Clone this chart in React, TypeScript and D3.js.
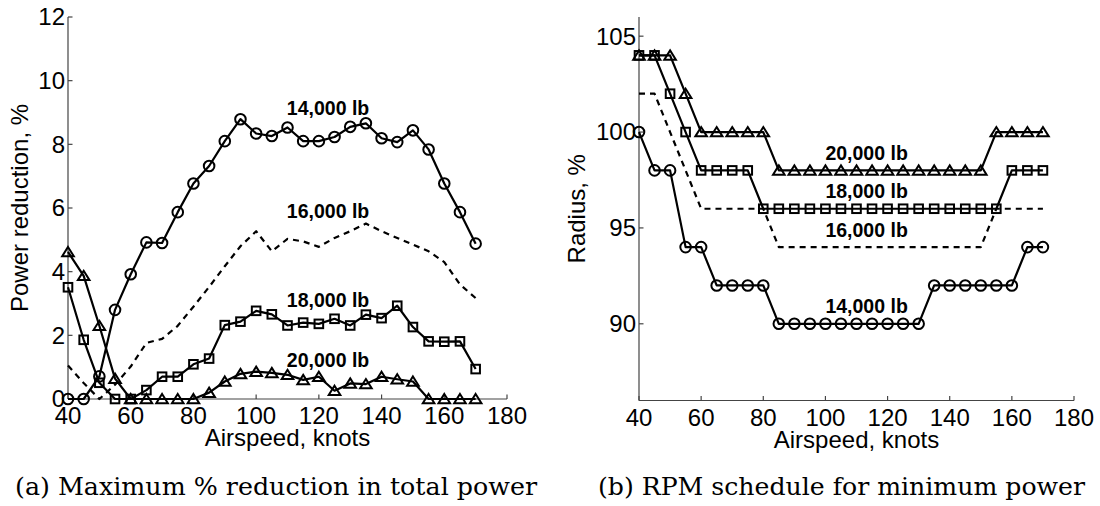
import React from 'react';
import * as d3 from 'd3';

const airspeed = [40, 45, 50, 55, 60, 65, 70, 75, 80, 85, 90, 95, 100, 105, 110, 115, 120, 125, 130, 135, 140, 145, 150, 155, 160, 165, 170];

// Panel (a): maximum % reduction in total power
const power14k = [0, 0, 0.71, 2.8, 3.92, 4.92, 4.9, 5.87, 6.77, 7.32, 8.1, 8.79, 8.34, 8.26, 8.53, 8.1, 8.1, 8.23, 8.55, 8.66, 8.19, 8.07, 8.44, 7.84, 6.77, 5.87, 4.88];
const power16k = [1.05, 0.5, 0, 0.45, 1.02, 1.76, 1.89, 2.3, 2.9, 3.52, 4.17, 4.8, 5.27, 4.64, 5.03, 4.95, 4.78, 5.06, 5.27, 5.51, 5.27, 5.06, 4.85, 4.64, 4.3, 3.6, 3.17];
const power18k = [3.51, 1.86, 0.51, 0, 0, 0.28, 0.7, 0.7, 1.09, 1.27, 2.32, 2.43, 2.77, 2.66, 2.31, 2.4, 2.36, 2.52, 2.31, 2.65, 2.54, 2.93, 2.26, 1.81, 1.8, 1.81, 0.94];
const power20k = [4.62, 3.87, 2.3, 0.64, 0, 0, 0, 0, 0, 0.2, 0.55, 0.79, 0.86, 0.82, 0.76, 0.6, 0.7, 0.26, 0.49, 0.47, 0.7, 0.62, 0.55, 0, 0, 0, 0];

// Panel (b): RPM schedule (radius %)
const radius14k = [100, 98, 98, 94, 94, 92, 92, 92, 92, 90, 90, 90, 90, 90, 90, 90, 90, 90, 90, 92, 92, 92, 92, 92, 92, 94, 94];
const radius16k = [102, 102, 100, 98, 96, 96, 96, 96, 96, 94, 94, 94, 94, 94, 94, 94, 94, 94, 94, 94, 94, 94, 94, 96, 96, 96, 96];
const radius18k = [104, 104, 102, 100, 98, 98, 98, 98, 96, 96, 96, 96, 96, 96, 96, 96, 96, 96, 96, 96, 96, 96, 96, 96, 98, 98, 98];
const radius20k = [104, 104, 104, 102, 100, 100, 100, 100, 100, 98, 98, 98, 98, 98, 98, 98, 98, 98, 98, 98, 98, 98, 98, 100, 100, 100, 100];

const xTicks = [40, 60, 80, 100, 120, 140, 160, 180];
const powerTicks = [0, 2, 4, 6, 8, 10, 12];
const radiusTicks = [90, 95, 100, 105];

const weightNames = ['14,000 lb', '16,000 lb', '18,000 lb', '20,000 lb'];
const markerKinds = ['circle', 'none', 'square', 'triangle'];

// label anchor positions in data coordinates [airspeed, value]
const powerLabelPos: [number, number][] = [[109.8, 8.92], [109.8, 5.69], [109.8, 2.89], [109.8, 1.0]];
const radiusLabelPos: [number, number][] = [[100, 90.55], [100, 94.52], [100, 96.55], [100, 98.54]];

const SANS = 'Liberation Sans, Arial, Helvetica, sans-serif';
const SERIF = 'DejaVu Serif, serif';

type PanelProps = {
  xRange: [number, number];
  yRange: [number, number];
  yDomain: [number, number];
  yTicks: number[];
  series: number[][];
  labelPos: [number, number][];
  yTitle: string;
  yTitleX: number;
  caption: string;
  captionX: number;
  captionLen: number;
};

function Marker({ kind, x, y }: { kind: string; x: number; y: number }) {
  const common = { fill: 'none', stroke: '#000', strokeWidth: 2 };
  if (kind === 'circle') return <circle cx={x} cy={y} r={5.3} {...common} />;
  if (kind === 'square') return <rect x={x - 4.3} y={y - 4.3} width={8.6} height={8.6} {...common} />;
  if (kind === 'triangle')
    return <path d={`M${x},${y - 5} L${x + 5.8},${y + 4.3} L${x - 5.8},${y + 4.3} Z`} {...common} strokeLinejoin="miter" />;
  return null;
}

function Panel(p: PanelProps) {
  const x = d3.scaleLinear().domain([40, 180]).range(p.xRange);
  const y = d3.scaleLinear().domain(p.yDomain).range(p.yRange);
  const line = d3
    .line<number>()
    .x((_, i) => x(airspeed[i]))
    .y((d) => y(d));
  const x0 = p.xRange[0];
  const x1 = p.xRange[1];
  const yb = p.yRange[0];
  const yt = p.yRange[1];
  const axisColor = '#444';
  const midX = (x0 + x1) / 2;
  const midY = (yb + yt) / 2;
  return (
    <g>
      {/* axes */}
      <line x1={x0} x2={x1} y1={yb} y2={yb} stroke={axisColor} strokeWidth={1.2} />
      <line x1={x0} x2={x0} y1={yb} y2={yt} stroke={axisColor} strokeWidth={1.2} />
      {xTicks.map((t) => (
        <g key={'xt' + t}>
          <line x1={x(t)} x2={x(t)} y1={yb} y2={yb - 4.5} stroke={axisColor} strokeWidth={1.2} />
          <text x={x(t)} y={yb + 25} textAnchor="middle" fontFamily={SANS} fontSize={24} fill="#000">
            {t}
          </text>
        </g>
      ))}
      {p.yTicks.map((t) => (
        <g key={'yt' + t}>
          <line x1={x0} x2={x0 + 4.5} y1={y(t)} y2={y(t)} stroke={axisColor} strokeWidth={1.2} />
          <text x={x0 - 3} y={y(t)} dy="0.35em" textAnchor="end" fontFamily={SANS} fontSize={24} fill="#000">
            {t}
          </text>
        </g>
      ))}
      <text x={midX} y={yb + 47} textAnchor="middle" fontFamily={SANS} fontSize={24} fill="#000">
        Airspeed, knots
      </text>
      <text
        transform={`translate(${p.yTitleX},${midY}) rotate(-90)`}
        textAnchor="middle"
        fontFamily={SANS}
        fontSize={24}
        fill="#000"
      >
        {p.yTitle}
      </text>
      {/* series */}
      {p.series.map((vals, si) => (
        <g key={'s' + si}>
          <path
            d={line(vals) || ''}
            fill="none"
            stroke="#000"
            strokeWidth={2.2}
            strokeDasharray={markerKinds[si] === 'none' ? '6,5' : undefined}
            strokeLinejoin="round"
          />
          {markerKinds[si] !== 'none' &&
            vals.map((v, i) => <Marker key={i} kind={markerKinds[si]} x={x(airspeed[i])} y={y(v)} />)}
        </g>
      ))}
      {p.labelPos.map((lp, i) => (
        <text
          key={'l' + i}
          x={x(lp[0])}
          y={y(lp[1])}
          fontFamily={SANS}
          fontWeight="bold"
          fontSize={19.5}
          fill="#000"
        >
          {weightNames[i]}
        </text>
      ))}
      <text
        x={p.captionX}
        y={495}
        fontFamily={SERIF}
        fontSize={24}
        fill="#000"
        textLength={p.captionLen}
        lengthAdjust="spacingAndGlyphs"
      >
        {p.caption}
      </text>
    </g>
  );
}

export default function App() {
  return (
    <svg
      width={1100}
      height={506}
      style={{ position: 'absolute', left: 0, top: 0, background: '#fff' }}
    >
      <rect x={0} y={0} width={1100} height={506} fill="#fff" />
      <Panel
        xRange={[68, 507]}
        yRange={[399, 17]}
        yDomain={[0, 12]}
        yTicks={powerTicks}
        series={[power14k, power16k, power18k, power20k]}
        labelPos={powerLabelPos}
        yTitle="Power reduction, %"
        yTitleX={28}
        caption="(a) Maximum % reduction in total power"
        captionX={15}
        captionLen={522}
      />
      <Panel
        xRange={[639, 1074]}
        yRange={[400.5, 17]}
        yDomain={[86, 106]}
        yTicks={radiusTicks}
        series={[radius14k, radius16k, radius18k, radius20k]}
        labelPos={radiusLabelPos}
        yTitle="Radius, %"
        yTitleX={585}
        caption="(b) RPM schedule for minimum power"
        captionX={598}
        captionLen={487}
      />
    </svg>
  );
}
